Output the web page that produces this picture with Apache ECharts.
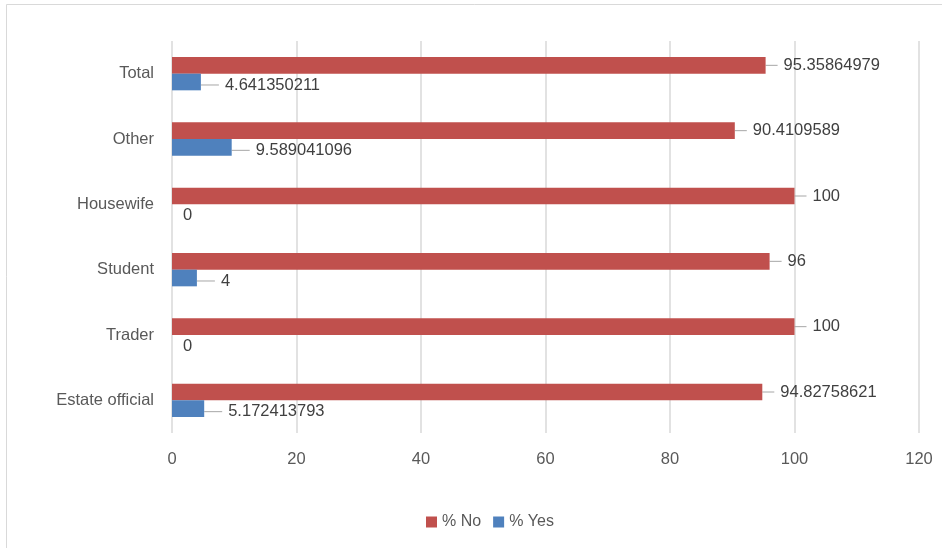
<!DOCTYPE html>
<html><head><meta charset="utf-8">
<script src="https://cdn.jsdelivr.net/npm/echarts@6/dist/echarts.min.js"></script>
<style>html,body{margin:0;padding:0;background:#fff;}#c{width:942px;height:548px;}</style>
</head><body><div id="c"></div>
<script>
var categories = ['Estate official', 'Trader', 'Student', 'Housewife', 'Other', 'Total'];
var noValues = [94.82758621, 100, 96, 100, 90.4109589, 95.35864979];
var yesValues = [5.172413793, 0, 4, 0, 9.589041096, 4.641350211];
var seriesNames = ['% No', '% Yes'];
var xTicks = {min: 0, max: 120, interval: 20};

var FONT = 'Liberation Sans';
var chart = echarts.init(document.getElementById('c'), null, {renderer: 'canvas'});

function items(vals) {
  return vals.map(function (v) {
    return {value: v, labelLine: {show: v !== 0}};
  });
}

function makeLabel(vals) {
  return {
    show: true, position: 'right', distance: 2,
    color: '#404040', fontFamily: FONT, fontSize: 16.5,
    formatter: function (p) {
      return (vals[p.dataIndex] === 0 ? '' : '{g|}') + '{t|' + p.value + '}';
    },
    rich: {
      g: {width: 6, height: 10},
      t: {color: '#404040', fontFamily: FONT, fontSize: 16.5}
    }
  };
}

chart.setOption({
  animation: false,
  backgroundColor: '#fff',
  graphic: [{
    type: 'rect',
    shape: {x: 6.5, y: 4.5, width: 960, height: 560},
    style: {fill: 'none', stroke: '#d9d9d9', lineWidth: 1}
  }],
  grid: {left: 172, right: 23, top: 41, bottom: 115, containLabel: false},
  legend: {
    bottom: 13, left: 421,
    itemWidth: 11, itemHeight: 11, itemGap: 12,
    icon: 'rect',
    textStyle: {color: '#595959', fontFamily: FONT, fontSize: 16},
    data: seriesNames
  },
  xAxis: {
    type: 'value', min: xTicks.min, max: xTicks.max, interval: xTicks.interval,
    axisLine: {show: false}, axisTick: {show: false},
    splitLine: {show: true, lineStyle: {color: '#d9d9d9', width: 1.5}},
    axisLabel: {color: '#595959', fontFamily: FONT, fontSize: 16.5, margin: 18}
  },
  yAxis: {
    type: 'category', data: categories,
    axisLine: {show: false}, axisTick: {show: false},
    axisLabel: {color: '#595959', fontFamily: FONT, fontSize: 16.5, margin: 18}
  },
  series: [{
    name: seriesNames[0], type: 'bar',
    data: items(noValues),
    itemStyle: {color: '#C0504D'},
    barGap: '0%', barCategoryGap: '49%',
    label: makeLabel(noValues),
    labelLine: {show: true, lineStyle: {color: '#a6a6a6', width: 1}},
    labelLayout: function (p) { return {dx: 10, dy: 0}; }
  }, {
    name: seriesNames[1], type: 'bar',
    data: items(yesValues),
    itemStyle: {color: '#4F81BD'},
    barGap: '0%', barCategoryGap: '49%',
    label: makeLabel(yesValues),
    labelLine: {show: true, lineStyle: {color: '#a6a6a6', width: 1}},
    labelLayout: function (p) {
      var v = yesValues[p.dataIndex];
      return {dx: v === 0 ? 9 : 16, dy: 3};
    }
  }]
});
</script></body></html>
